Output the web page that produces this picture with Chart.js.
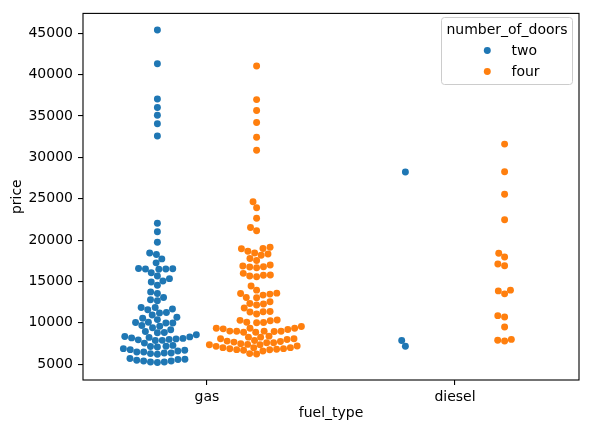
<!DOCTYPE html>
<html>
<head>
<meta charset="utf-8">
<script src="https://cdn.jsdelivr.net/npm/chart.js@4.4.0/dist/chart.umd.min.js"></script>
<style>
  html, body { margin: 0; padding: 0; background: #fff; }
  #wrap { width: 589px; height: 433px; }
</style>
</head>
<body>
<div id="wrap"><canvas id="chart" width="589" height="433"></canvas></div>
<script>
// Swarm plot: price by fuel_type, split by number_of_doors

const fuelTypes = ['gas', 'diesel'];
const doorTypes = ['two', 'four'];
const doorColors = ['#1f77b4', '#ff7f0e'];
const priceTicks = [5000, 10000, 15000, 20000, 25000, 30000, 35000, 40000, 45000];

// prices
const gasTwo = [
  45400, 41320, 37060, 36020, 35100, 34070, 32580,
  22040, 21010, 19730,
  18450, 18260, 17730, 17250,
  16560, 16530, 16500, 16515, 16480,
  16050, 15660, 15340, 15060, 14940, 14550,
  13740, 13540, 13060, 12780, 12670,
  11860, 11850, 11670, 11590, 11260, 11190, 10950,
  10670, 10550, 10390,
  10070, 9990, 9980, 10030, 9670, 9590,
  9400, 9160, 8950, 8830, 8800, 8560,
  8350, 8300, 8240, 8180, 8120, 8060, 8000, 7940, 7880, 7870,
  7550, 7275, 7160, 7150, 7070,
  6880, 6760, 6680, 6590, 6475, 6470, 6355, 6350, 6280, 6200,
  5680, 5600, 5560, 5480, 5395, 5390, 5275, 5270, 5200
];
const gasFour = [
  41050, 36980, 35660, 34220, 32430, 30870,
  24640, 23920, 22640, 21530, 21130,
  19130, 18980, 18950, 18650, 18450, 18330, 18170, 17780, 17540,
  16980, 16860, 16770, 16740, 16650,
  15980, 15780, 15740, 15660, 15580,
  14460, 13950,
  13590, 13540, 13470, 13350, 13060, 13040,
  12550, 12340, 12270, 12150,
  11790, 11380, 11350, 11320, 11070,
  10350, 10300, 10250, 10080, 10050, 10020,
  9550, 9350, 9345, 9340, 9270, 9190, 9000, 8995, 8990, 8980, 8950, 8870, 8860,
  8390, 8270, 8270, 8080, 8070, 7990, 7870, 7790, 7750, 7670, 7600, 7480,
  7600, 7395, 7360, 7355, 7190, 7155, 7000, 7000, 6995, 6880, 6875, 6800,
  6760, 6755, 6680, 6590, 6280, 6230
];
const dieselTwo = [28230, 7870, 7160];
const dieselFour = [
  31600, 28250, 25550, 22470, 18400, 17950, 17100, 16900,
  13950, 13860, 13500, 10870, 10700, 9500, 8000, 7900, 7800
];

// groups[hue][category]
const groups = [[gasTwo, dieselTwo], [gasFour, dieselFour]];
const dodge = [-0.2, 0.2];
const pointDiameter = 6.94;

function centeredData(hue) {
  const out = [];
  groups[hue].forEach((values, cat) => {
    values.forEach(v => out.push({ x: cat + dodge[hue], y: v }));
  });
  return out;
}

// beeswarm in pixel space, like seaborn: sort by value, take the
// free candidate position closest to the centre line
function swarm(values, center, xs, ys, d) {
  const pts = values.map(v => ({ v: v, py: ys.getPixelForValue(v) }))
    .sort((a, b) => a.v - b.v);
  const placed = [];
  pts.forEach(p => {
    const near = placed.filter(q => Math.abs(q.py - p.py) < d);
    const cands = [0];
    near.forEach(q => {
      const dx = Math.sqrt(d * d - (q.py - p.py) * (q.py - p.py));
      cands.push(q.dx - dx, q.dx + dx);
    });
    cands.sort((a, b) => Math.abs(a) - Math.abs(b));
    p.dx = cands.find(c => near.every(q =>
      (q.dx - c) * (q.dx - c) + (q.py - p.py) * (q.py - p.py) >= d * d - 1e-6));
    placed.push(p);
  });
  const cx = xs.getPixelForValue(center);
  return pts.map(p => ({ x: xs.getValueForPixel(cx + p.dx), y: p.v }));
}

const framePlugin = {
  id: 'frame',
  afterDraw(chart) {
    const { ctx, chartArea: a } = chart;
    ctx.save();
    ctx.strokeStyle = '#000';
    ctx.lineWidth = 1.1;
    ctx.strokeRect(a.left, a.top, a.right - a.left, a.bottom - a.top);
    ctx.restore();
  }
};

const legendPlugin = {
  id: 'mplLegend',
  afterDraw(chart) {
    const ctx = chart.ctx;
    const x0 = 441.5, y0 = 17.5, w = 131, h = 67;
    ctx.save();
    ctx.beginPath();
    ctx.roundRect(x0, y0, w, h, 3);
    ctx.fillStyle = 'rgba(255,255,255,0.8)';
    ctx.fill();
    ctx.strokeStyle = '#cccccc';
    ctx.lineWidth = 1;
    ctx.stroke();
    ctx.fillStyle = '#000';
    ctx.font = '14px "DejaVu Sans"';
    ctx.textBaseline = 'middle';
    ctx.textAlign = 'center';
    ctx.fillText('number_of_doors', x0 + w / 2, 30.5);
    ctx.textAlign = 'left';
    doorTypes.forEach((label, i) => {
      const y = 50.5 + i * 21;
      ctx.beginPath();
      ctx.arc(487.3, y, 3.47, 0, Math.PI * 2);
      ctx.fillStyle = doorColors[i];
      ctx.fill();
      ctx.fillStyle = '#000';
      ctx.fillText(label, 511.5, y + 0.5);
    });
    ctx.restore();
  }
};

Chart.defaults.color = '#000';
Chart.defaults.font.family = '"DejaVu Sans", sans-serif';
Chart.defaults.font.size = 14;

const tickGrid = {
  display: true,
  drawOnChartArea: false,
  drawTicks: true,
  tickLength: 5,
  color: '#000',
  lineWidth: 1.1
};

const chart = new Chart(document.getElementById('chart'), {
  type: 'scatter',
  data: {
    datasets: doorTypes.map((label, i) => ({
      label: label,
      data: centeredData(i),
      backgroundColor: doorColors[i],
      borderColor: doorColors[i],
      borderWidth: 0,
      pointRadius: pointDiameter / 2,
      pointHoverRadius: pointDiameter / 2
    }))
  },
  options: {
    responsive: false,
    animation: false,
    layout: { padding: { left: 0, right: 10, top: 10, bottom: 0 } },
    plugins: {
      legend: { display: false },
      tooltip: { enabled: false }
    },
    scales: {
      x: {
        type: 'linear',
        min: -0.5,
        max: 1.5,
        afterBuildTicks: scale => { scale.ticks = fuelTypes.map((f, i) => ({ value: i })); },
        afterFit: scale => { scale.height = 53; },
        ticks: {
          padding: 4,
          autoSkip: false,
          maxRotation: 0,
          callback: value => fuelTypes[value]
        },
        grid: tickGrid,
        border: { display: false },
        title: { display: true, text: 'fuel_type', padding: { top: 0, bottom: 11.5 } }
      },
      y: {
        type: 'linear',
        min: 3090,
        max: 47400,
        afterBuildTicks: scale => { scale.ticks = priceTicks.map(v => ({ value: v })); },
        afterFit: scale => { scale.width = 83; },
        ticks: {
          padding: 5,
          callback: value => String(value)
        },
        grid: tickGrid,
        border: { display: false },
        title: { display: true, text: 'price', padding: { top: 9, bottom: 0 } }
      }
    }
  },
  plugins: [framePlugin, legendPlugin]
});

// second pass: spread each group into a swarm now the scales are known
const xs = chart.scales.x, ys = chart.scales.y;
chart.data.datasets.forEach((ds, hue) => {
  let data = [];
  groups[hue].forEach((values, cat) => {
    data = data.concat(swarm(values, cat + dodge[hue], xs, ys, pointDiameter));
  });
  ds.data = data;
});
chart.update('none');
</script>
</body>
</html>
